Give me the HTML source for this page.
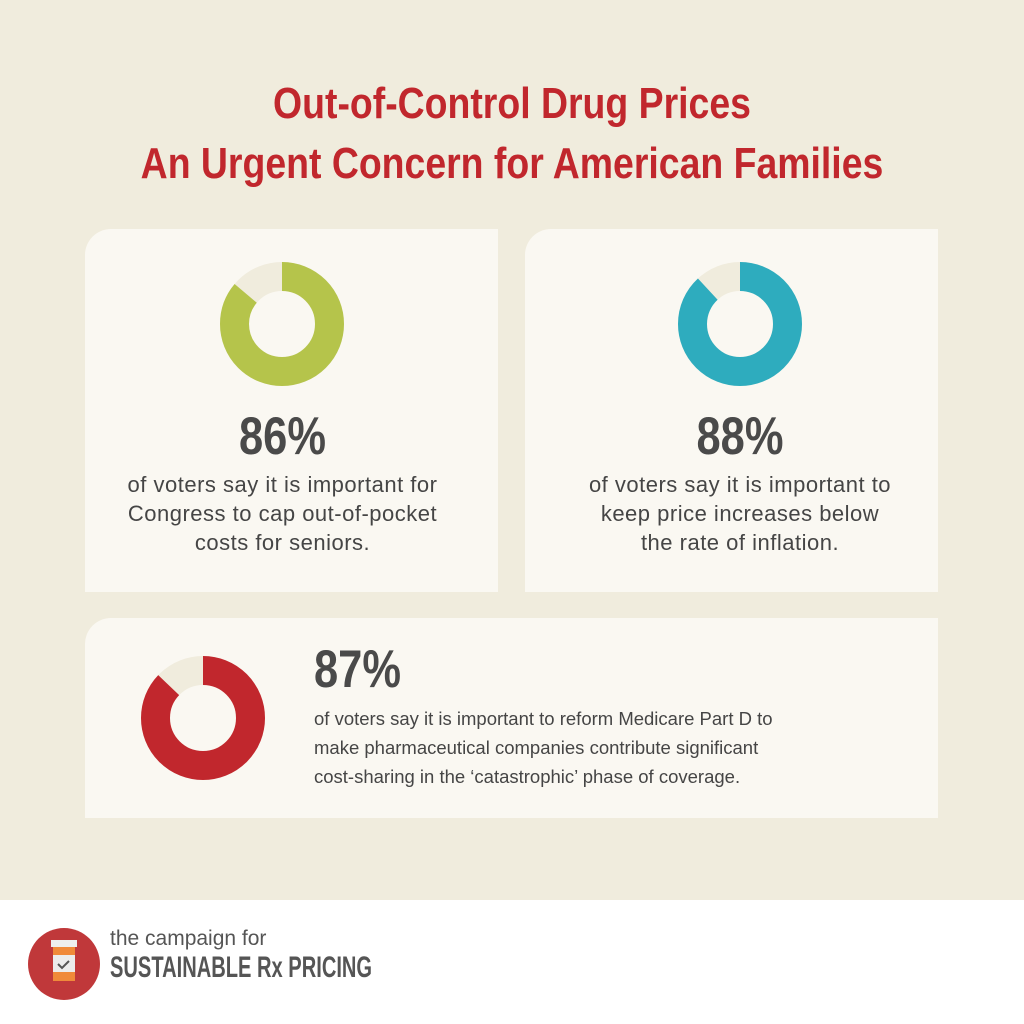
<!DOCTYPE html>
<html><head><meta charset="utf-8"><style>
body{margin:0;width:1024px;height:1024px;background:#f0ecdd;position:relative;overflow:hidden;font-family:"Liberation Sans",sans-serif}
.t{position:absolute;left:0;width:1024px;text-align:center;color:#c1272d;font-weight:bold;font-size:44px;line-height:48px;transform:scaleX(0.85)}
.card{position:absolute;background:#faf8f2;border-top-left-radius:26px}
.n{position:absolute;font-weight:bold;font-size:53px;color:#4a4a4a;line-height:53px;transform:scaleX(0.82)}
.p{position:absolute;font-size:22px;line-height:29px;color:#454545;text-align:center;letter-spacing:0.5px}
.foot{position:absolute;left:0;top:900px;width:1024px;height:124px;background:#fff}
</style></head><body>
<div class="t" style="top:80px">Out-of-Control Drug Prices</div>
<div class="t" style="top:140px">An Urgent Concern for American Families</div>

<div class="card" style="left:85px;top:229px;width:413px;height:363px"></div>
<div class="card" style="left:525px;top:229px;width:413px;height:363px"></div>
<div class="card" style="left:85px;top:618px;width:853px;height:200px"></div>

<svg style="position:absolute;left:0;top:0" width="1024" height="1024">
<g fill="none" stroke-width="29">
<circle cx="282" cy="324" r="47.5" stroke="#f0ecdd"/>
<circle cx="282" cy="324" r="47.5" stroke="#b5c44b" stroke-dasharray="256.7 400" transform="rotate(-90 282 324)"/>
<circle cx="740" cy="324" r="47.5" stroke="#f0ecdd"/>
<circle cx="740" cy="324" r="47.5" stroke="#2eacbe" stroke-dasharray="262.6 400" transform="rotate(-90 740 324)"/>
<circle cx="203" cy="718" r="47.5" stroke="#f0ecdd"/>
<circle cx="203" cy="718" r="47.5" stroke="#c1272d" stroke-dasharray="259.7 400" transform="rotate(-90 203 718)"/>
</g>
</svg>

<div class="n" style="left:85px;width:395px;text-align:center;top:410px">86%</div>
<div class="p" style="left:85px;width:395px;top:470px">of voters say it is important for<br>Congress to cap out-of-pocket<br>costs for seniors.</div>
<div class="n" style="left:525px;width:430px;text-align:center;top:410px">88%</div>
<div class="p" style="left:525px;width:430px;top:470px">of voters say it is important to<br>keep price increases below<br>the rate of inflation.</div>
<div class="n" style="left:314px;top:643px;transform-origin:0 0">87%</div>
<div class="p" style="left:314px;width:640px;text-align:left;top:704px;font-size:18.5px;letter-spacing:0">of voters say it is important to reform Medicare Part D to<br>make pharmaceutical companies contribute significant<br>cost-sharing in the ‘catastrophic’ phase of coverage.</div>

<div class="foot"></div>
<svg style="position:absolute;left:0;top:900px" width="120" height="124">
<circle cx="64" cy="64" r="36" fill="#c0383a"/>
<rect x="51" y="40" width="26" height="7" fill="#eee"/>
<rect x="53" y="47" width="22" height="34" fill="#f08a3a"/>
<rect x="53" y="55" width="22" height="17" fill="#ececec"/>
<path d="M58 64l4 4 7-7" stroke="#555" stroke-width="2" fill="none"/>
</svg>
<div style="position:absolute;left:110px;top:927px;font-size:21px;color:#555">the campaign for</div>
<div style="position:absolute;left:110px;top:951px;font-weight:bold;font-size:30px;color:#555;transform:scaleX(0.67);transform-origin:0 0;white-space:nowrap">SUSTAINABLE Rx PRICING</div>
</body></html>
